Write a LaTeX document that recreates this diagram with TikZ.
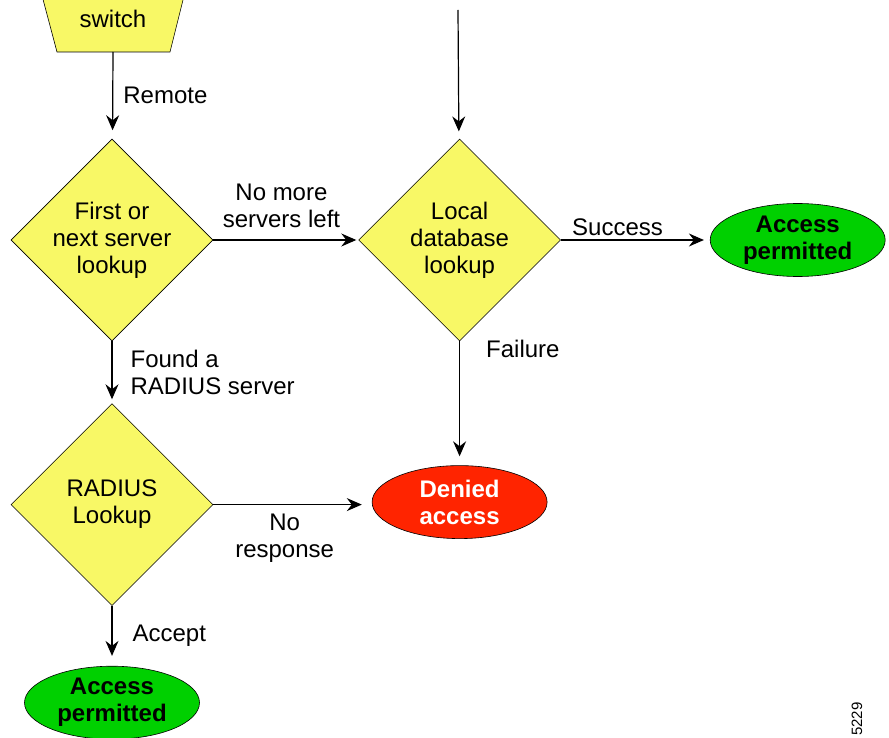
\documentclass[tikz,border=0pt]{standalone}
\usepackage{fontspec}
\setmainfont{Liberation Sans}
\usetikzlibrary{arrows.meta,positioning,shapes.geometric}
\definecolor{decyellow}{RGB}{248,248,102}
\definecolor{okgreen}{RGB}{0,208,0}
\definecolor{denyred}{RGB}{255,36,0}

\begin{document}
\begin{tikzpicture}[
  x=1pt,y=1pt,
  font=\fontsize{24}{27}\selectfont,
  node distance=62pt and 145pt,
  decision/.style={draw,diamond,fill=decyellow,align=center,inner sep=0pt,
                   minimum width=202pt,minimum height=202pt,line width=0.6pt},
  outcome/.style={draw,ellipse,align=center,inner sep=0pt,
                  font=\fontsize{24}{27}\selectfont\bfseries,
                  minimum width=175pt,minimum height=73pt,line width=0.6pt},
  lbl/.style={inner sep=0pt,align=center},
  arrow/.style={-{Stealth[length=15pt,width=13pt,inset=5pt]},line width=1.2pt}
]
\useasboundingbox (0,0) rectangle (889,-738);

\filldraw[fill=decyellow,line width=0.6pt]
  (40,12) -- (57,-52) -- (170,-52) -- (186,12) -- cycle;
\node (sw) at (113,-19) {switch};
\coordinate (swbot) at (113,-52);
\coordinate (feed) at (458,-10);

\node[decision] (srv) at (112,-240) {First or\\next server\\lookup};
\node[decision,right=of srv] (local) {Local\\database\\lookup};
\node[decision,below=of srv] (radius) {RADIUS\\Lookup};

\node[outcome,fill=okgreen,right=149pt of local] (permB) {Access\\permitted};
\node[outcome,fill=denyred,text=white,below=124pt of local] (deny) {Denied\\access};
\node[outcome,fill=okgreen,below=60pt of radius] (permA) {Access\\permitted};

\draw[arrow,shorten >=9pt] (swbot) -- node[lbl,right=10pt] {Remote} (srv);
\draw[arrow,shorten >=8pt] (feed) -- (local);
\draw[arrow,shorten >=2pt] (srv) -- node[lbl,pos=0.47,above=12pt] {No more\\servers left} (local);
\draw[arrow,shorten >=6pt] (local) -- node[lbl,pos=0.38,above=4pt] {Success} (permB);
\draw[arrow,shorten >=9pt] (local.south) -- node[lbl,pos=0.06,right=26pt] {Failure} (deny.north);
\draw[arrow,shorten >=4pt] (srv) -- node[lbl,align=left,right=18pt] {Found a\\RADIUS server} (radius);
\draw[arrow,shorten >=10pt] (radius.east) -- node[lbl,pos=0.45,below=9pt] {No\\response} (deny.west |- radius.east);
\draw[arrow,shorten >=10pt] (radius) -- node[lbl,right=20pt] {Accept} (permA);

\node[font=\fontsize{15}{18}\selectfont,rotate=90] (fignum) at (857,-719) {5229};
\end{tikzpicture}
\end{document}
